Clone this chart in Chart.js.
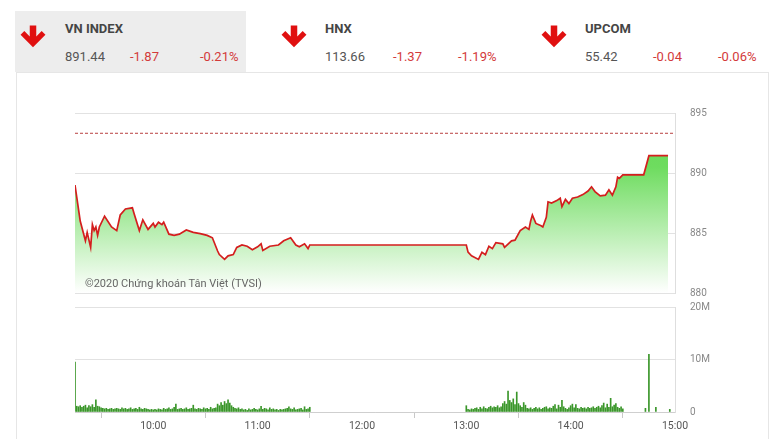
<!DOCTYPE html>
<html>
<head>
<meta charset="utf-8">
<script src="https://cdn.jsdelivr.net/npm/chart.js@4.4.1/dist/chart.umd.min.js"></script>
<style>
  body { margin: 0; background: #fff; width: 780px; height: 439px; overflow: hidden; position: relative; font-family: Roboto, "Noto Sans", sans-serif; }
  .card { position: absolute; left: 16px; top: 72px; width: 751px; height: 380px; border: 1px solid #e6e6e6; background: #fff; }
  .hl { position: absolute; left: 15px; top: 11px; width: 231px; height: 61px; background: #ededed; }
  .arrow { position: absolute; width: 26px; height: 25px; }
  .name { position: absolute; font-size: 13px; font-weight: 700; color: #454545; line-height: 16px; }
  .val { position: absolute; font-size: 13px; color: #555; line-height: 16px; }
  .neg { color: #d33a3a; }
  .wm { position: absolute; left: 85px; top: 277px; font-size: 11px; color: #666; }
  canvas { position: absolute; left: 0; }
</style>
</head>
<body>
<div class="hl"></div>
<div class="card"></div>

<svg class="arrow" style="left:20px;top:25px" viewBox="0 0 24 22"><path d="M9 0H15V10L20 5L23.5 8.5L12 20L0.5 8.5L4 5L9 10Z" fill="#e01010"/></svg>
<div class="name" style="left:65px;top:21px">VN INDEX</div>
<div class="val" style="left:65px;top:49px">891.44</div>
<div class="val neg" style="left:130px;top:49px">-1.87</div>
<div class="val neg" style="left:200px;top:49px">-0.21%</div>

<svg class="arrow" style="left:281px;top:25px" viewBox="0 0 24 22"><path d="M9 0H15V10L20 5L23.5 8.5L12 20L0.5 8.5L4 5L9 10Z" fill="#e01010"/></svg>
<div class="name" style="left:325px;top:21px">HNX</div>
<div class="val" style="left:325px;top:49px">113.66</div>
<div class="val neg" style="left:393px;top:49px">-1.37</div>
<div class="val neg" style="left:458px;top:49px">-1.19%</div>

<svg class="arrow" style="left:541px;top:25px" viewBox="0 0 24 22"><path d="M9 0H15V10L20 5L23.5 8.5L12 20L0.5 8.5L4 5L9 10Z" fill="#e01010"/></svg>
<div class="name" style="left:585px;top:21px">UPCOM</div>
<div class="val" style="left:585px;top:49px">55.42</div>
<div class="val neg" style="left:653px;top:49px">-0.04</div>
<div class="val neg" style="left:718px;top:49px">-0.06%</div>

<canvas id="priceChart" width="780" height="222" style="top:92px;width:780px;height:222px"></canvas>
<canvas id="volChart" width="780" height="154" style="top:286px;width:780px;height:154px"></canvas>
<div class="wm">©2020 Chứng khoán Tân Việt (TVSI)</div>

<script>
const refValue = 893.31;

const priceTimes = [
  "09:15","09:18","09:21","09:22","09:24","09:25","09:26","09:27","09:28","09:29",
  "09:32","09:36","09:39","09:41","09:44","09:48","09:49","09:52","09:54","09:57",
  "10:00","10:01","10:03","10:05","10:06","10:09","10:12","10:15","10:19","10:23",
  "10:27","10:31","10:34","10:37","10:38","10:41","10:43","10:46","10:48","10:51",
  "10:54","10:57","11:00","11:02","11:03","11:07","11:12","11:15","11:19","11:22",
  "11:24","11:27","11:29","11:30","13:00","13:01","13:03","13:07","13:09","13:11",
  "13:13","13:15","13:17","13:21","13:22","13:26","13:28","13:31","13:34","13:36",
  "13:37","13:38","13:40","13:43","13:44","13:46","13:47","13:49","13:52","13:54",
  "13:55","13:57","13:59","14:01","14:04","14:07","14:10","14:12","14:14","14:17",
  "14:20","14:22","14:24","14:26","14:27","14:28","14:30","14:42","14:45","14:56"
];
const priceValues = [
  889.0, 886.0, 884.35, 885.05, 883.8, 885.7, 885.2, 885.5, 884.8, 885.5,
  886.4, 885.5, 885.2, 886.5, 887.0, 887.1, 886.6, 885.2, 886.1, 885.3,
  885.8, 885.5, 885.9, 885.7, 885.9, 884.9, 884.8, 884.9, 885.25, 885.05,
  884.95, 884.8, 884.6, 883.5, 883.2, 882.8, 883.1, 883.2, 883.8, 884.0,
  883.9, 883.6, 883.85, 884.1, 883.55, 883.9, 884.0, 884.35, 884.6, 884.0,
  883.85, 884.1, 883.7, 884.0, 884.0, 883.4, 883.1, 882.8, 883.4, 883.2,
  883.9, 883.7, 884.2, 884.1, 883.8, 884.35, 884.4, 885.2, 885.5, 885.3,
  886.0, 886.5, 885.8, 885.6, 885.5, 886.3, 887.6, 887.5, 887.7, 887.9,
  887.2, 887.8, 887.45, 887.9, 888.0, 888.2, 888.5, 888.85, 888.45, 888.1,
  888.15, 888.6, 888.15, 888.85, 889.65, 889.55, 889.85, 889.85, 891.44, 891.44
];

// volume in millions, one bar per minute from the start time
const volMorningStart = "09:15";
const volMorning = [
  9.5,
  1.1, 1.0, 1.2, 0.9, 1.1, 1.3, 0.8, 1.2, 1.0, 1.4, 0.9, 2.3, 1.1, 1.0,
  0.8, 0.7, 0.6, 0.7, 0.5, 0.6, 0.7, 0.5, 0.6, 0.7, 0.6, 0.5, 0.8, 0.6, 0.7,
  0.5, 0.6, 0.8, 0.5, 0.6, 0.7, 0.5, 0.9, 0.6, 0.5, 0.7, 0.6, 0.5, 0.4, 0.5,
  0.4, 0.5, 0.4, 0.6, 0.5, 0.4, 0.7, 0.5, 0.6, 0.8, 0.5, 0.6, 0.9, 1.5, 0.5,
  0.6, 0.7, 0.5, 0.6, 0.8, 0.5, 0.6, 0.7, 1.3, 0.6, 0.5, 0.7, 0.6, 0.5, 0.8,
  0.6, 0.7, 0.5, 0.9, 0.6, 0.7, 0.8, 1.5, 1.2, 1.8, 1.3, 2.0, 1.6, 2.3, 1.7,
  1.2, 0.9, 0.7, 0.6, 0.8, 0.5, 0.6, 0.4, 0.5, 0.3, 0.6, 0.4, 0.5, 0.7, 0.5,
  0.4, 0.6, 1.1, 0.5, 0.7, 0.6, 0.4, 0.8, 0.5, 0.6, 0.4, 0.5, 0.3, 0.5, 0.4,
  0.5, 0.6, 0.7, 1.0, 0.6, 0.5, 0.8, 0.4, 0.5, 0.6, 0.7, 0.4, 1.0, 0.5, 0.6, 0.9
];
const volAfternoonStart = "13:00";
const volAfternoon = [
  1.2, 0.5, 0.4, 0.6, 0.5, 0.7, 0.8, 0.5, 0.9, 0.6, 1.0, 0.7, 0.6, 0.9, 1.1,
  0.8, 1.0, 0.9, 1.2, 0.8, 1.0, 1.6, 2.0, 1.5, 4.0, 2.2, 1.8, 2.5, 1.4, 3.8,
  1.6, 1.2, 0.9, 1.8, 1.3, 0.7, 0.6, 0.8, 0.5, 0.7, 0.9, 0.6, 0.8, 0.5, 0.7,
  0.9, 1.0, 0.6, 0.8, 0.7, 1.1, 1.4, 0.6, 1.3, 0.9, 2.2, 1.0, 0.7, 0.5, 0.8,
  1.2, 1.5, 0.8, 1.4, 0.7, 0.6, 0.9, 0.7, 0.8, 0.6, 0.9, 0.7, 0.8, 1.0, 0.7,
  0.9, 1.1, 0.8, 1.2, 1.7, 0.8, 1.5, 0.9, 2.6, 1.0, 1.3, 1.6, 0.9, 0.7, 1.0, 0.6
];
const volLateTimes = ["14:43", "14:45", "14:49", "14:57"];
const volLate = [0.7, 11.0, 0.9, 0.5];

const xTickLabels = ["10:00", "11:00", "12:00", "13:00", "14:00", "15:00"];
const priceTicks = [880, 885, 890, 895];
const volTicks = [0, 10, 20];

function toMin(s) {
  const p = s.split(":");
  return parseInt(p[0]) * 60 + parseInt(p[1]);
}
function fmtTime(m) {
  const h = Math.floor(m / 60), mm = m % 60;
  return String(h).padStart(2, "0") + ":" + String(mm).padStart(2, "0");
}

const xMin = toMin("09:15"), xMax = toMin("15:00");

const pricePoints = priceTimes.map((t, i) => ({ x: toMin(t), y: priceValues[i] }));

const volPoints = [];
volMorning.forEach((v, i) => volPoints.push({ x: toMin(volMorningStart) + i, y: v }));
volAfternoon.forEach((v, i) => volPoints.push({ x: toMin(volAfternoonStart) + i, y: v }));
volLate.forEach((v, i) => volPoints.push({ x: toMin(volLateTimes[i]), y: v }));

Chart.defaults.animation = false;
Chart.defaults.font.family = "Roboto, 'Noto Sans', sans-serif";

new Chart(document.getElementById("priceChart").getContext("2d"), {
  type: "line",
  data: {
    datasets: [
      {
        data: [{ x: xMin, y: refValue }, { x: xMax, y: refValue }],
        borderColor: "#b84040",
        borderWidth: 1,
        borderDash: [3, 2],
        pointRadius: 0,
        fill: false,
      },
      {
        data: pricePoints,
        borderColor: "#d41e1e",
        borderWidth: 1.7,
        pointRadius: 0,
        tension: 0,
        fill: "start",
        backgroundColor: function (ctx) {
          const area = ctx.chart.chartArea;
          if (!area) return "rgba(150,230,130,0.6)";
          const g = ctx.chart.ctx.createLinearGradient(0, area.top, 0, area.bottom);
          g.addColorStop(0, "rgb(100,215,85)");
          g.addColorStop(0.3, "rgb(110,220,95)");
          g.addColorStop(1, "rgb(255,255,255)");
          return g;
        },
      },
    ],
  },
  options: {
    responsive: false,
    layout: { padding: { left: 75, top: 13, bottom: 8, right: 0 } },
    plugins: { legend: { display: false }, tooltip: { enabled: false } },
    scales: {
      x: { type: "linear", min: xMin, max: xMax, display: false },
      y: {
        position: "right",
        min: 880,
        max: 895,
        afterFit: (axis) => { axis.width = 105; },
        afterBuildTicks: (axis) => { axis.ticks = priceTicks.map((v) => ({ value: v })); },
        grid: { color: "#e2e2e2", drawTicks: false },
        border: { display: true, color: "#dedede" },
        ticks: { color: "#888", font: { size: 10 }, padding: 15 },
      },
    },
  },
});

new Chart(document.getElementById("volChart").getContext("2d"), {
  type: "bar",
  data: {
    datasets: [
      {
        data: volPoints,
        backgroundColor: "#3a962a",
        barThickness: 1,
      },
    ],
  },
  options: {
    responsive: false,
    layout: { padding: { left: 75, top: 12, bottom: 0, right: 0 } },
    plugins: { legend: { display: false }, tooltip: { enabled: false } },
    scales: {
      x: {
        type: "linear",
        min: xMin,
        max: xMax,
        offset: false,
        afterFit: (axis) => { axis.height = 28; },
        afterBuildTicks: (axis) => { axis.ticks = xTickLabels.map((t) => ({ value: toMin(t) })); },
        grid: { drawOnChartArea: false, color: "#c8c8c8", tickLength: 6 },
        border: { color: "#cfcfcf" },
        ticks: { color: "#555", font: { size: 10.5 }, padding: 2, maxRotation: 0, callback: (v) => fmtTime(v) },
      },
      y: {
        position: "right",
        min: 0,
        max: 20,
        afterFit: (axis) => { axis.width = 105; },
        afterBuildTicks: (axis) => { axis.ticks = volTicks.map((v) => ({ value: v })); },
        grid: { color: "#e2e2e2", drawTicks: false },
        border: { display: true, color: "#dedede" },
        ticks: { color: "#888", font: { size: 10 }, padding: 15, callback: (v) => (v === 0 ? "0" : v + "M") },
      },
    },
  },
});
</script>
</body>
</html>
